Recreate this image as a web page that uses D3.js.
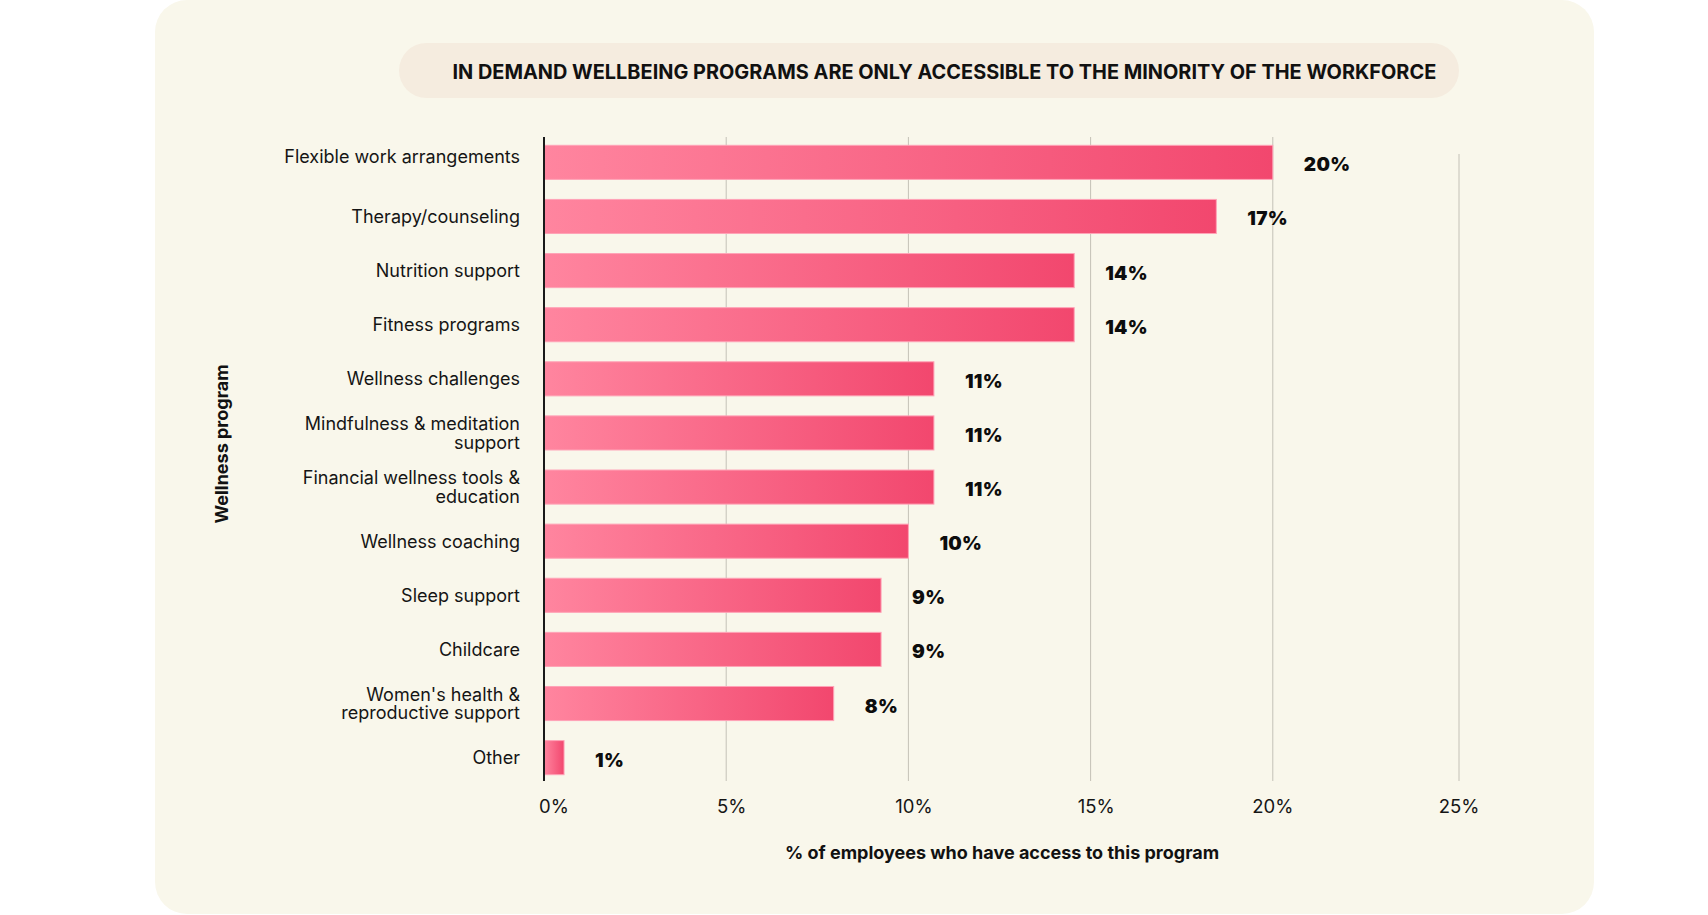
<!DOCTYPE html>
<html>
<head>
<meta charset="utf-8">
<script src="https://cdn.jsdelivr.net/npm/d3@7/dist/d3.min.js"></script>
<style>
  html, body { margin: 0; padding: 0; background: #ffffff; }
  svg { display: block; }
</style>
</head>
<body>
<svg id="chart" width="1708" height="915"></svg>
<script>
const titleText = "IN DEMAND WELLBEING PROGRAMS ARE ONLY ACCESSIBLE TO THE MINORITY OF THE WORKFORCE";
const xAxisTitle = "% of employees who have access to this program";
const yAxisTitle = "Wellness program";

const categories = [
  "Flexible work arrangements",
  "Therapy/counseling",
  "Nutrition support",
  "Fitness programs",
  "Wellness challenges",
  "Mindfulness & meditation\nsupport",
  "Financial wellness tools &\neducation",
  "Wellness coaching",
  "Sleep support",
  "Childcare",
  "Women's health &\nreproductive support",
  "Other"
];
const values = [20.0, 18.45, 14.55, 14.55, 10.7, 10.7, 10.7, 10.0, 9.25, 9.25, 7.95, 0.55];
const valueLabels = ["20%", "17%", "14%", "14%", "11%", "11%", "11%", "10%", "9%", "9%", "8%", "1%"];
const tickValues = [0, 5, 10, 15, 20, 25];
const tickLabels = ["0%", "5%", "10%", "15%", "20%", "25%"];

const svg = d3.select("#chart");
const FONT = "Inter, 'Noto Sans', sans-serif";

// card
svg.append("rect")
  .attr("x", 155).attr("y", 0).attr("width", 1439).attr("height", 914)
  .attr("rx", 32).attr("fill", "#F9F7EB");

// title pill
svg.append("rect")
  .attr("x", 399).attr("y", 43).attr("width", 1060).attr("height", 55)
  .attr("rx", 27.5).attr("fill", "#F5ECDF");

const title = svg.append("text")
  .attr("x", 452.5).attr("y", 79)
  .attr("font-family", FONT).attr("font-weight", 700).attr("font-size", 20.5)
  .attr("fill", "#111")
  .text(titleText);
const tw = title.node().getComputedTextLength();
title.attr("font-size", 20.5 * 984 / tw);

const x = d3.scaleLinear().domain([0, 25]).range([544, 1455]);
const y = d3.scaleBand().domain(categories).range([138, 782])
  .paddingInner(0.37).paddingOuter(0.135);

// gradient
const defs = svg.append("defs");
const grad = defs.append("linearGradient").attr("id", "barGrad")
  .attr("x1", "0%").attr("x2", "100%").attr("y1", "0%").attr("y2", "0%");
grad.append("stop").attr("offset", "0%").attr("stop-color", "#FF859F");
grad.append("stop").attr("offset", "100%").attr("stop-color", "#F2476E");

// gridlines (outermost line sits slightly further right, as in the reference)
const gx = d => x(d) + (d === 25 ? 4 : 0);
svg.append("g").selectAll("line").data(tickValues.filter(d => d > 0)).join("line")
  .attr("x1", gx).attr("x2", gx)
  .attr("y1", d => d === 25 ? 154 : 137).attr("y2", 781)
  .attr("stroke", "#C4C1B7").attr("stroke-width", 1);

// bars
svg.append("g").selectAll("rect").data(categories).join("rect")
  .attr("x", x(0))
  .attr("y", d => y(d))
  .attr("width", (d, i) => x(values[i]) - x(0))
  .attr("height", y.bandwidth())
  .attr("fill", "url(#barGrad)")
  .attr("stroke", "#FFA3B7").attr("stroke-width", 1);

// axis line
svg.append("line")
  .attr("x1", x(0)).attr("x2", x(0)).attr("y1", 137).attr("y2", 781)
  .attr("stroke", "#1a1a1a").attr("stroke-width", 2);

// value labels
svg.append("g").selectAll("text").data(categories).join("text")
  .attr("x", (d, i) => x(values[i]) + 31)
  .attr("y", d => y(d) + y.bandwidth() / 2 + 9)
  .attr("font-family", FONT).attr("font-weight", 900).attr("font-size", 19)
  .attr("letter-spacing", "0.3px")
  .attr("fill", "#0d0d0d")
  .text((d, i) => valueLabels[i]);

// category labels
const catG = svg.append("g");
categories.forEach((c, i) => {
  const lines = c.split("\n");
  const cy = y(c) + y.bandwidth() / 2 - (i === 0 ? 6 : 0);
  const lh = 18.5;
  const t = catG.append("text")
    .attr("text-anchor", "end")
    .attr("font-family", FONT).attr("font-size", 18)
    .attr("fill", "#151515");
  lines.forEach((ln, k) => {
    t.append("tspan")
      .attr("x", 520)
      .attr("y", cy + 6.5 + (k - (lines.length - 1) / 2) * lh)
      .text(ln);
  });
});

// tick labels
const tickNudge = d => (d === 0 ? 10 : d === 20 ? 0 : d === 25 ? 4 : 5.5);
svg.append("g").selectAll("text").data(tickValues).join("text")
  .attr("x", d => x(d) + tickNudge(d))
  .attr("y", 812.5)
  .attr("text-anchor", "middle")
  .attr("font-family", FONT).attr("font-size", 18.5)
  .attr("fill", "#151515")
  .text((d, i) => tickLabels[i]);

// axis titles
svg.append("text")
  .attr("x", 1002).attr("y", 859)
  .attr("text-anchor", "middle")
  .attr("font-family", FONT).attr("font-weight", 700).attr("font-size", 18)
  .attr("fill", "#111")
  .text(xAxisTitle);

svg.append("text")
  .attr("transform", "translate(228,444) rotate(-90)")
  .attr("text-anchor", "middle")
  .attr("font-family", FONT).attr("font-weight", 700).attr("font-size", 18)
  .attr("fill", "#111")
  .text(yAxisTitle);
</script>
</body>
</html>
